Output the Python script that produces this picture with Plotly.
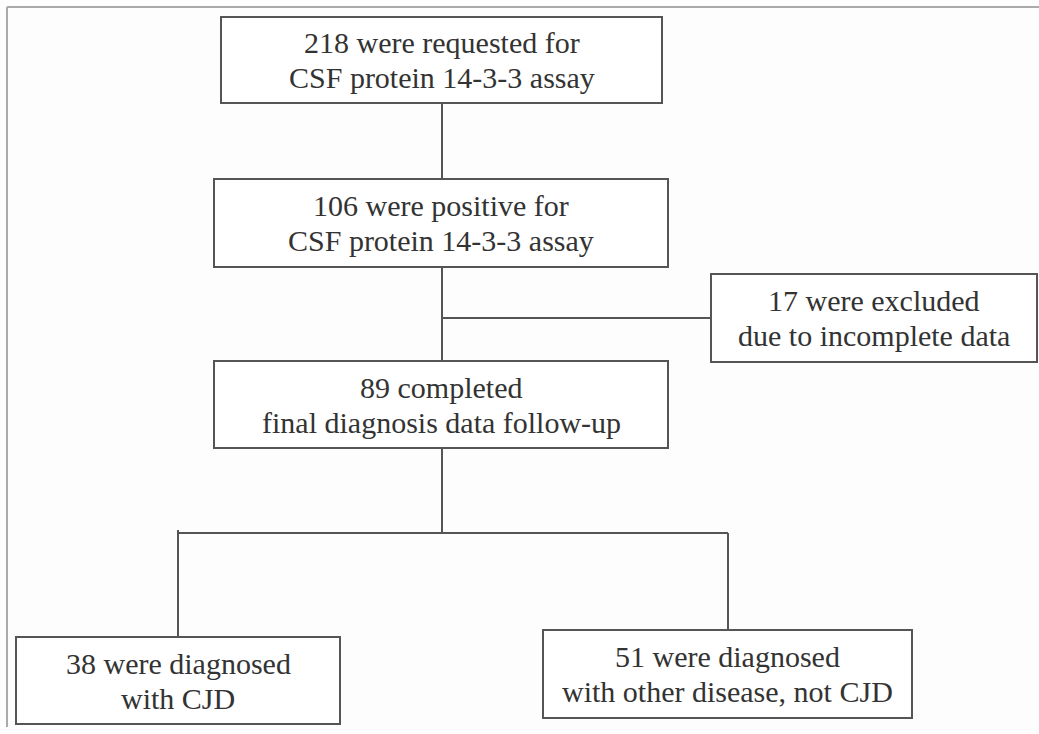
import plotly.graph_objects as go

# ---- data: flowchart node counts and labels ----
node_ids = ["requested", "positive", "excluded", "completed", "cjd", "other"]
counts = [218, 106, 17, 89, 38, 51]
line1 = ["218 were requested for", "106 were positive for", "17 were excluded",
         "89 completed", "38 were diagnosed", "51 were diagnosed"]
line2 = ["CSF protein 14-3-3 assay", "CSF protein 14-3-3 assay", "due to incomplete data",
         "final diagnosis data follow-up", "with CJD", "with other disease, not CJD"]

# ---- layout geometry (pixels, y downward) ----
W, H = 1039, 734
boxes = {
    "requested": (221, 17, 662, 103),
    "positive": (214, 179, 668, 267),
    "excluded": (711, 274, 1037, 362),
    "completed": (214, 361, 668, 448),
    "cjd": (16, 637, 340, 724),
    "other": (543, 630, 912, 718),
}
connectors = [
    ((442, 103), (442, 179)),
    ((442, 267), (442, 361)),
    ((442, 318), (711, 318)),
    ((442, 448), (442, 533)),
    ((178, 533), (728, 533)),
    ((178, 530), (178, 637)),
    ((728, 533), (728, 630)),
]
LINE_COL = "#555555"
TEXT_COL = "#333333"
FONT = "'Liberation Serif', 'Times New Roman', Tinos, 'DejaVu Serif', serif"

fig = go.Figure()
shapes = []
# outer frame (top and left edges)
shapes.append(dict(type="line", x0=7, y0=7, x1=W, y1=7, line=dict(color="#aaaaaa", width=2)))
shapes.append(dict(type="line", x0=7, y0=7, x1=7, y1=727, line=dict(color="#aaaaaa", width=2)))

for (a, b) in connectors:
    shapes.append(dict(type="line", x0=a[0], y0=a[1], x1=b[0], y1=b[1],
                       line=dict(color=LINE_COL, width=2)))

annotations = []
for nid, t1, t2 in zip(node_ids, line1, line2):
    x0, y0, x1, y1 = boxes[nid]
    shapes.append(dict(type="rect", x0=x0, y0=y0, x1=x1, y1=y1,
                       line=dict(color=LINE_COL, width=2), fillcolor="#ffffff"))
    cx, cy = (x0 + x1) / 2, (y0 + y1) / 2
    for t, dy in ((t1, -17.5), (t2, 17.5)):
        annotations.append(dict(x=cx, y=cy + dy, text=t, showarrow=False,
                                xanchor="center", yanchor="middle",
                                font=dict(family=FONT, size=30, color=TEXT_COL)))

# invisible trace to anchor axes
fig.add_trace(go.Scatter(x=[0, W], y=[0, H], mode="markers",
                         marker=dict(opacity=0), hoverinfo="skip", showlegend=False))

fig.update_layout(
    width=W, height=H,
    margin=dict(l=0, r=0, t=0, b=0),
    paper_bgcolor="#fdfdfd", plot_bgcolor="#fdfdfd",
    font=dict(family=FONT),
    shapes=shapes, annotations=annotations,
    xaxis=dict(range=[0, W], visible=False, fixedrange=True),
    yaxis=dict(range=[H, 0], visible=False, fixedrange=True),
    showlegend=False,
)

fig.write_html("out.html", config={"displayModeBar": False},
               post_script="document.body.style.margin='0';document.body.style.overflow='hidden';")
